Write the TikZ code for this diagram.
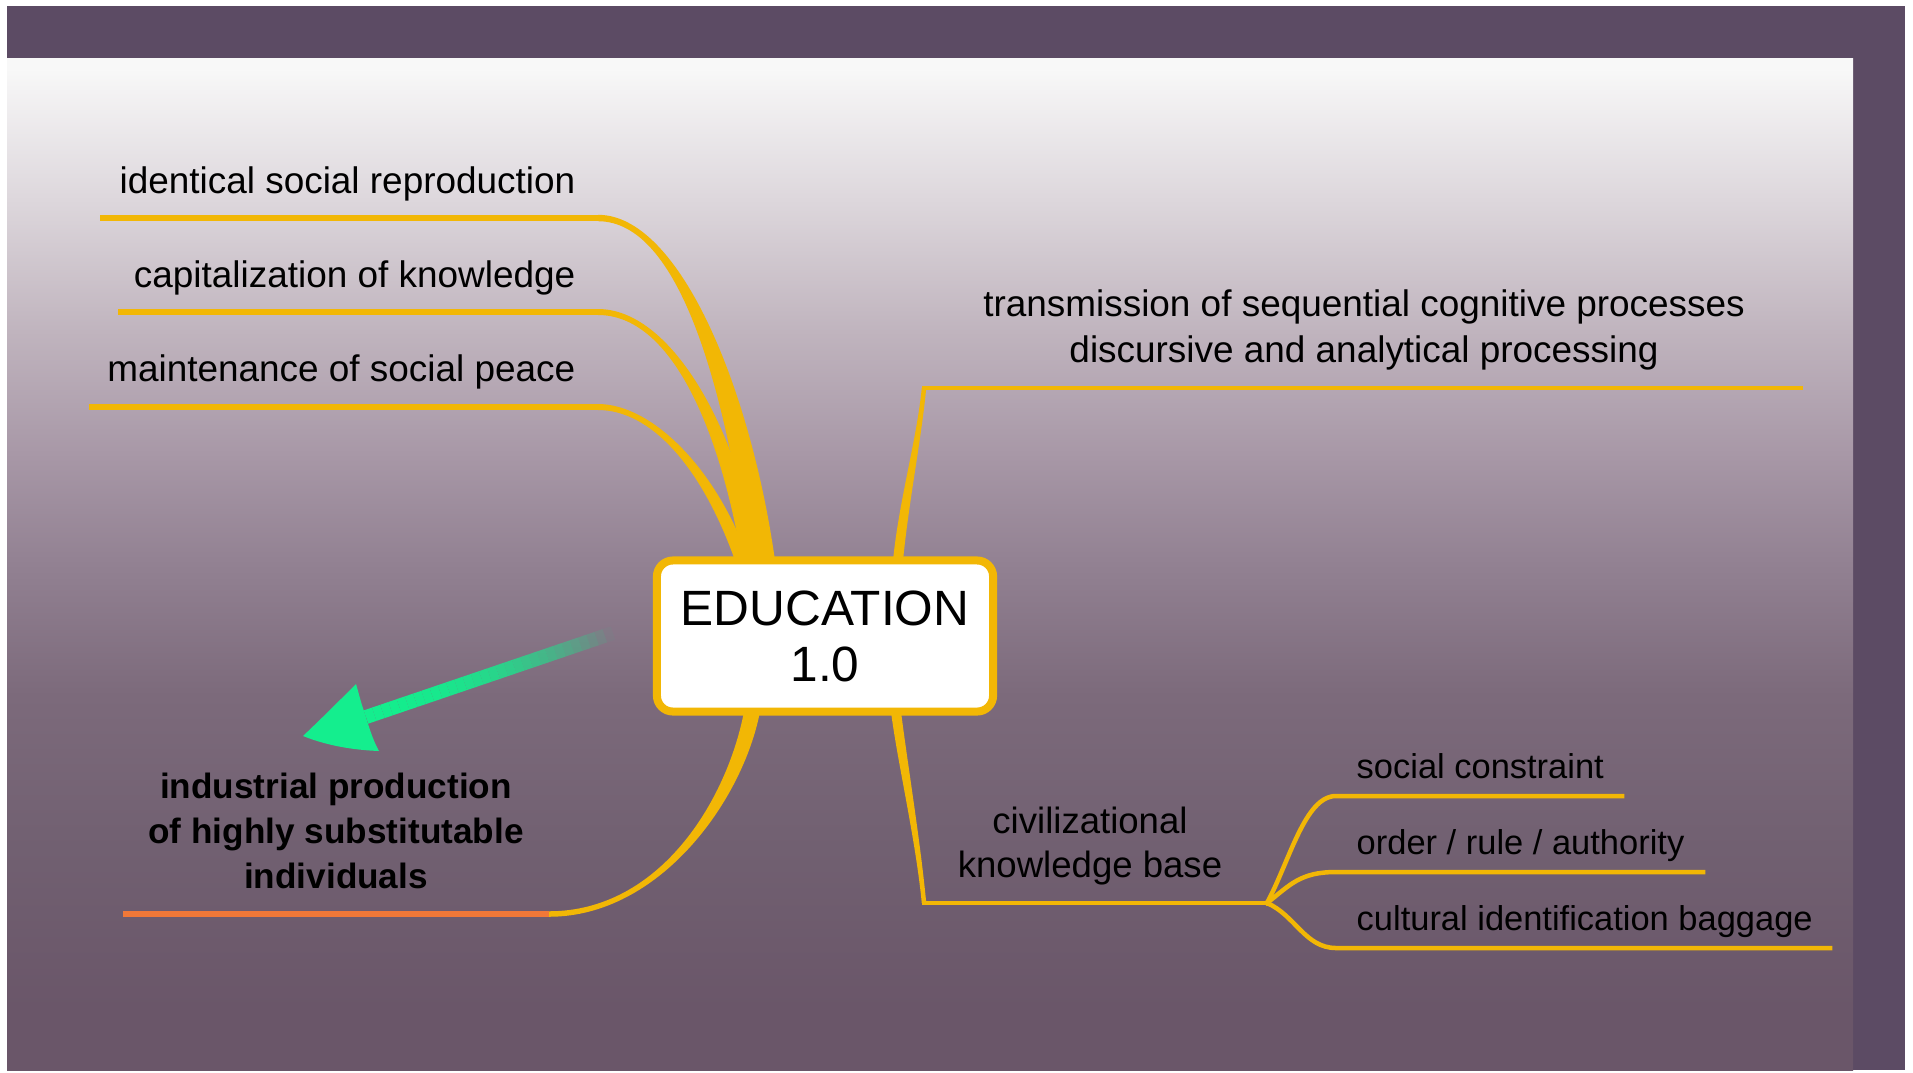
\documentclass[tikz,border=0pt]{standalone}
\usepackage{fontspec}
\setmainfont{Liberation Sans}
\usetikzlibrary{calc,
  positioning
}

\definecolor{framepurple}{HTML}{5C4B64}
\definecolor{branchyellow}{HTML}{F2B705}
\definecolor{tailorange}{HTML}{F07838}
\definecolor{arrowgreen}{HTML}{14EE8E}
\definecolor{pf0}{HTML}{6A5669}
\definecolor{pf1}{HTML}{716071}
\definecolor{pf2}{HTML}{7C6A7B}
\definecolor{pf3}{HTML}{928192}
\definecolor{pf4}{HTML}{A898A7}
\definecolor{pf5}{HTML}{C0B4BE}
\definecolor{pf6}{HTML}{DDD7DC}
\definecolor{pf7}{HTML}{F8F8F8}

\pgfdeclareverticalshading{panelfade}{100bp}{color(0bp)=(pf0); color(28bp)=(pf0);
  color(36bp)=(pf1); color(43.5bp)=(pf2); color(50bp)=(pf3); color(55.5bp)=(pf4);
  color(61.5bp)=(pf5); color(68bp)=(pf6); color(74.5bp)=(pf7); color(100bp)=(pf7)}

% tapered branch: thin end, two controls, root on the hub, half widths at both ends
\newcommand{\taper}[6]{%
  \fill[branch] ($(#1)+#5$) .. controls ($(#2)+#5$) and ($(#3)+#6$) .. ($(#4)+#6$)
  -- ($(#4)-#6$) .. controls ($(#3)-#6$) and ($(#2)-#5$) .. ($(#1)-#5$) -- cycle;}

\begin{document}
\begin{tikzpicture}[x=0.01cm, y=-0.01cm,
  leaftext/.style={font=\fontsize{10.5}{13.1}\selectfont, inner sep=0pt},
  subtext/.style={font=\fontsize{9.8}{12}\selectfont, inner sep=0pt},
  boldtext/.style={font=\fontsize{10}{12.8}\selectfont\bfseries, align=center, inner sep=0pt},
  hubbox/.style={draw=branchyellow, fill=white, line width=0.08cm, rounded corners=0.16cm,
    minimum width=3.36cm, minimum height=1.51cm, outer sep=0pt, inner sep=0pt,
    align=center, font=\fontsize{14.1}{15.9}\selectfont},
  branch/.style={fill=branchyellow},
  stem/.style={draw=branchyellow, line width=0.06cm},
  twig/.style={draw=branchyellow, line width=0.045cm, line cap=rect}]

  \useasboundingbox (0,0) rectangle (1913,1072);
  \fill[white] (0,0) rectangle (1913,1072);
  \fill[framepurple] (7,6) rectangle (1905,1070);
  \shade[shading=panelfade] (7,58) rectangle (1853,1070);

  \node[hubbox] (Hub) at (825,636) {EDUCATION\\1.0};

  % left side
  \coordinate (ReproEnd) at (598,218);
  \coordinate (ReproTail) at (100,218);
  \coordinate (ReproRoot) at ($(Hub.north)+(-63,0)$);
  \coordinate (CapitalEnd) at (598,312);
  \coordinate (CapitalTail) at (118,312);
  \coordinate (CapitalRoot) at ($(Hub.north)+(-74,0)$);
  \coordinate (PeaceEnd) at (598,407);
  \coordinate (PeaceTail) at (89,407);
  \coordinate (PeaceRoot) at ($(Hub.north)+(-83,0)$);

  \taper{ReproEnd}{680,218}{738,390}{ReproRoot}{(0,-3.2)}{(13,0)}
  \taper{CapitalEnd}{670,312}{728,425}{CapitalRoot}{(0,-3)}{(9,0)}
  \taper{PeaceEnd}{650,407}{708,465}{PeaceRoot}{(0,-3)}{(7,0)}
  \draw[stem] (ReproEnd) -- (ReproTail);
  \draw[stem] (CapitalEnd) -- (CapitalTail);
  \draw[stem] (PeaceEnd) -- (PeaceTail);

  \node[leaftext, anchor=base east] (ReproLabel) at (576,193) {identical social reproduction};
  \node[leaftext, anchor=base east] (CapitalLabel) at (576,287) {capitalization of knowledge};
  \node[leaftext, anchor=base east] (PeaceLabel) at (576,381) {maintenance of social peace};

  % right side, top
  \coordinate (TransRoot) at ($(Hub.north)+(73,0)$);
  \coordinate (TransEnd) at (924,388);
  \coordinate (TransTail) at (1801,388);
  \taper{TransEnd}{919,440}{904,500}{TransRoot}{(2.25,0)}{(5,0)}
  \draw[twig] (TransEnd) -- (TransTail);
  \node[leaftext, align=center] (TransLabel) at (1364,330)
  {transmission of sequential cognitive processes\\discursive and analytical processing};

  % right side, bottom
  \coordinate (CivilRoot) at ($(Hub.south)+(71,0)$);
  \coordinate (CivilEnd) at (924,903);
  \coordinate (Fork) at (1267,903);
  \taper{CivilEnd}{918,840}{902,760}{CivilRoot}{(2.25,0)}{(5,0)}
  \draw[twig] (CivilEnd) -- (Fork);
  \node[leaftext, align=center, font=\fontsize{10.4}{12.5}\selectfont] (CivilLabel)
  at (1090,846) {civilizational\\knowledge base};

  \coordinate (SocialStart) at (1336,796);
  \coordinate (SocialTail) at (1622,796);
  \coordinate (OrderStart) at (1336,872);
  \coordinate (OrderTail) at (1703,872);
  \coordinate (BaggageStart) at (1336,948);
  \coordinate (BaggageTail) at (1830,948);
  \draw[twig] (Fork) .. controls (1290,860) and (1305,796) .. (SocialStart) -- (SocialTail);
  \draw[twig] (Fork) .. controls (1290,885) and (1300,872) .. (OrderStart) -- (OrderTail);
  \draw[twig] (Fork) .. controls (1295,915) and (1305,948) .. (BaggageStart) -- (BaggageTail);

  \node[subtext, anchor=base west] (SocialLabel) at (1356,778) {social constraint};
  \node[subtext, anchor=base west] (OrderLabel) at (1356,854) {order / rule / authority};
  \node[subtext, anchor=base west] (BaggageLabel) at (1356,930) {cultural identification baggage};

  % left side, bottom
  \coordinate (IndustryRoot) at ($(Hub.south)+(-73,0)$);
  \coordinate (IndustryEnd) at (549,914);
  \coordinate (IndustryTail) at (123,914);
  \taper{IndustryEnd}{660,914}{735,800}{IndustryRoot}{(0,2.75)}{(8,0)}
  \draw[tailorange, line width=0.055cm] (IndustryEnd) -- (IndustryTail);
  \node[boldtext] (IndustryLabel) at (336,831)
  {industrial production\\of highly substitutable\\individuals};

  % green arrow
  \coordinate (ArrowTip) at (303,736);
  \coordinate (ArrowNeck) at (366,717);
  \coordinate (ArrowTail) at (613,633);
  \fill[arrowgreen] (ArrowTip) .. controls (322,718) and (340,700) .. (356,684)
  .. controls (359,694) and (361,703) .. (364,711) -- (368,724)
  .. controls (371,733) and (374,742) .. (379,751)
  .. controls (354,750) and (328,746) .. (ArrowTip) -- cycle;
  \foreach \k in {0,...,29} {
    \pgfmathsetmacro{\op}{1-((\k+0.5)/30)^2.5}
    \draw[arrowgreen, line width=0.14cm, draw opacity=\op]
    ($(ArrowNeck)!\k/30!(ArrowTail)$) -- ($(ArrowNeck)!\k/30+1/30!(ArrowTail)$);
  }
\end{tikzpicture}
\end{document}
